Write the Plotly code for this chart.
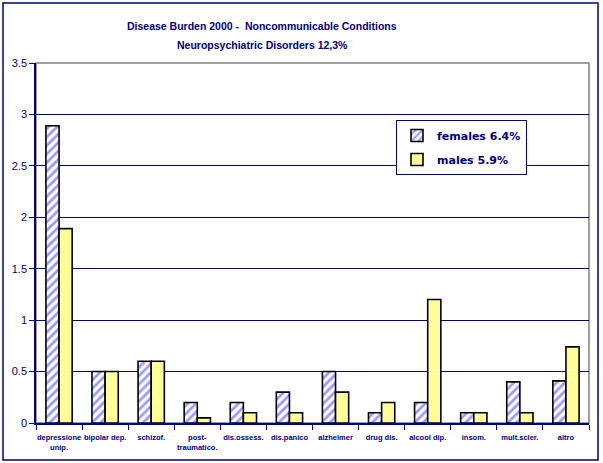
import plotly.graph_objects as go

categories = ["depressione<br>unip.", "bipolar dep.", "schizof.", "post-<br>traumatico.",
              "dis.ossess.", "dis.panico", "alzheimer", "drug dis.", "alcool dip.",
              "insom.", "mult.scler.", "altro"]
females = [2.89, 0.5, 0.6, 0.2, 0.2, 0.3, 0.5, 0.1, 0.2, 0.1, 0.4, 0.41]
males = [1.89, 0.5, 0.6, 0.05, 0.1, 0.1, 0.3, 0.2, 1.2, 0.1, 0.1, 0.74]
series_names = ["females 6.4%", "males 5.9%"]
title_lines = ["Disease Burden 2000 -  Noncommunicable Conditions",
               "Neuropsychiatric Disorders 12,3%"]
y_ticks = [0, 0.5, 1, 1.5, 2, 2.5, 3, 3.5]
y_ticktext = ["0", "0.5", "1", "1.5", "2", "2.5", "3", "3.5"]

NAVY = "#000080"

fig = go.Figure()
fig.add_trace(go.Bar(
    x=categories, y=females, name=series_names[0], legendgroup="f",
    marker=dict(color="white", line=dict(color="black", width=1.6),
                pattern=dict(shape="/", fgcolor="#9999FF", bgcolor="white",
                             fgopacity=1, size=6, solidity=0.45, fillmode="overlay")),
))
fig.add_trace(go.Bar(
    x=categories, y=males, name=series_names[1], legendgroup="m",
    marker=dict(color="#FFFF99", line=dict(color="black", width=1.6)),
))

W, H = 603, 463
L, R, T, B = 36, 14, 63, 40
pw, ph = W - L - R, H - T - B

def px_x(x):
    return (x - L) / pw

def px_y(y):
    return (H - B - y) / ph

title_font = dict(family="Liberation Sans", size=10.5, color=NAVY, weight="bold")
annotations = [
    dict(text=title_lines[0], xref="paper", yref="paper", x=px_x(262), y=px_y(26),
         xanchor="center", yanchor="middle", showarrow=False, font=title_font),
    dict(text=title_lines[1], xref="paper", yref="paper", x=px_x(262), y=px_y(45),
         xanchor="center", yanchor="middle", showarrow=False, font=title_font),
]

fig.update_layout(
    width=W, height=H,
    margin=dict(l=L, r=R, t=T, b=B),
    paper_bgcolor="white", plot_bgcolor="white",
    barmode="group", bargap=0.43, bargroupgap=0,
    annotations=annotations,
    legend=dict(x=px_x(396), y=px_y(120), xanchor="left", yanchor="top",
                bgcolor="white", bordercolor=NAVY, borderwidth=1,
                font=dict(family="DejaVu Sans", size=11, color=NAVY, weight="bold"),
                itemwidth=30, tracegroupgap=5),
    showlegend=True,
    font=dict(family="Liberation Sans", color=NAVY),
    shapes=[
        dict(type="rect", xref="paper", yref="paper", x0=0, x1=1, y0=0, y1=1,
             line=dict(color="#808080", width=1.5), layer="below"),
        dict(type="rect", xref="paper", yref="paper",
             x0=px_x(3), x1=px_x(598), y0=px_y(460), y1=px_y(3),
             line=dict(color=NAVY, width=1.5)),
    ],
)
fig.update_xaxes(
    type="category", tickson="boundaries", ticks="outside", ticklen=5,
    tickcolor=NAVY, showline=True, linecolor=NAVY, linewidth=1.5,
    showgrid=False, tickangle=0, ticklabelstandoff=6,
    tickfont=dict(family="Liberation Sans Narrow, Liberation Sans", size=7.5, color=NAVY, weight="bold"),
)
fig.update_yaxes(
    range=[0, 3.5], tickvals=y_ticks, ticktext=y_ticktext,
    ticks="outside", ticklen=5, tickcolor=NAVY,
    showline=True, linecolor=NAVY, linewidth=1.5,
    showgrid=True, gridcolor=NAVY, gridwidth=1.2, zeroline=False,
    tickfont=dict(family="Liberation Sans", size=11, color=NAVY),
)

fig.write_html("out.html", config={"displayModeBar": False},
               post_script="document.body.style.margin='0';")
